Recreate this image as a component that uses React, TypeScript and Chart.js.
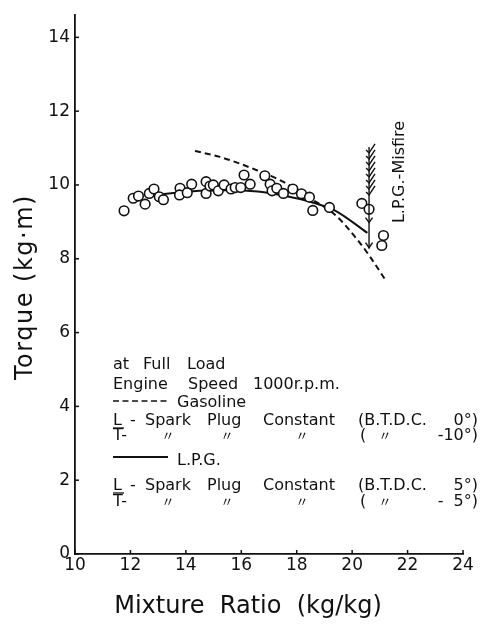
import React, { useEffect, useRef } from "react";
import { Chart, registerables } from "chart.js";

Chart.register(...registerables);

// Axis tick values
const xTicks = [10, 12, 14, 16, 18, 20, 22, 24];
const yTicks = [0, 2, 4, 6, 8, 10, 12, 14];

// L.P.G. test points: mixture ratio (kg/kg) against torque (kg·m)
const lpgRatio = [
  11.77, 12.1, 12.29, 12.53, 12.68, 12.85, 13.04, 13.19,
  13.79, 13.77, 14.05, 14.21, 14.73, 14.73, 14.87, 14.99,
  15.17, 15.38, 15.63, 15.78, 15.98, 16.1, 16.32, 16.85,
  17.04, 17.11, 17.28, 17.52, 17.86, 18.17, 18.46, 18.58,
  19.18, 20.35, 20.61, 21.13, 21.07,
];
const lpgTorque = [
  9.3, 9.64, 9.7, 9.48, 9.77, 9.89, 9.68, 9.6,
  9.91, 9.73, 9.79, 10.02, 10.09, 9.77, 9.97, 10.0,
  9.84, 10.0, 9.89, 9.93, 9.93, 10.27, 10.02, 10.25,
  10.02, 9.84, 9.91, 9.77, 9.89, 9.76, 9.67, 9.31,
  9.39, 9.5, 9.34, 8.63, 8.36,
];

// Gasoline curve (dashed)
const gasRatio = [14.33, 15.23, 16.56, 17.5, 18.48, 19.4, 20.29, 20.65, 21.19];
const gasTorque = [10.92, 10.76, 10.4, 10.09, 9.64, 9.18, 8.42, 8.05, 7.44];

// L.P.G. curve (solid)
const lpgCurveRatio = [12.6, 13.3, 14.5, 15.5, 16.6, 17.6, 18.6, 19.4, 20.55];
const lpgCurveTorque = [9.68, 9.76, 9.84, 9.86, 9.82, 9.7, 9.52, 9.3, 8.7];

// L.P.G. misfire limit
const misfireRatio = 20.61;
const misfireTop = 11.03;
const misfireHatchEnd = 9.6;
const misfireBottom = 8.28;
const misfireArrows = [8.98, 8.3];

const INK = "#111";
const FONT = "'DejaVu Sans', sans-serif";

const toPoints = (xs: number[], ys: number[]) => xs.map((x, i) => ({ x, y: ys[i] }));

const extrasPlugin = {
  id: "extras",
  afterDraw(chart: any) {
    const { ctx } = chart;
    const x = chart.scales.x;
    const y = chart.scales.y;
    ctx.save();
    ctx.strokeStyle = INK;
    ctx.fillStyle = INK;
    ctx.lineCap = "butt";

    // inward tick marks
    ctx.lineWidth = 1.5;
    xTicks.forEach((v) => {
      const px = x.getPixelForValue(v);
      ctx.beginPath();
      ctx.moveTo(px, y.bottom);
      ctx.lineTo(px, y.bottom - 4);
      ctx.stroke();
    });
    yTicks.forEach((v) => {
      const py = y.getPixelForValue(v);
      ctx.beginPath();
      ctx.moveTo(x.left, py);
      ctx.lineTo(x.left + 4, py);
      ctx.stroke();
    });

    // misfire limit: hatched line with arrows
    const mx = x.getPixelForValue(misfireRatio);
    const mTop = y.getPixelForValue(misfireTop);
    const mHatch = y.getPixelForValue(misfireHatchEnd);
    const mBot = y.getPixelForValue(misfireBottom);
    ctx.lineWidth = 1.4;
    ctx.beginPath();
    ctx.moveTo(mx, mTop);
    ctx.lineTo(mx, mBot);
    ctx.stroke();
    for (let py = mTop + 6; py <= mHatch; py += 6) {
      ctx.beginPath();
      ctx.moveTo(mx - 3, py - 3);
      ctx.lineTo(mx, py);
      ctx.lineTo(mx + 6, py - 9);
      ctx.stroke();
    }
    misfireArrows.forEach((v) => {
      const py = y.getPixelForValue(v);
      ctx.beginPath();
      ctx.moveTo(mx - 3.5, py - 5);
      ctx.lineTo(mx, py);
      ctx.lineTo(mx + 3.5, py - 5);
      ctx.stroke();
    });

    ctx.textBaseline = "alphabetic";

    // rotated misfire label
    ctx.save();
    ctx.font = `16px ${FONT}`;
    ctx.translate(404, 172);
    ctx.rotate(-Math.PI / 2);
    ctx.textAlign = "center";
    ctx.fillText("L.P.G.-Misfire", 0, 0);
    ctx.restore();

    // axis titles
    ctx.save();
    ctx.font = `24px ${FONT}`;
    ctx.textAlign = "center";
    (ctx as any).letterSpacing = "1.5px";
    ctx.translate(32, 287);
    ctx.rotate(-Math.PI / 2);
    ctx.fillText("Torque (kg·m)", 0, 0);
    ctx.restore();

    ctx.save();
    ctx.font = `24px ${FONT}`;
    ctx.textAlign = "center";
    ctx.fillText("Mixture  Ratio  (kg/kg)", 248, 613);
    ctx.restore();

    // test conditions block
    const put = (s: string, px: number, py: number, align: CanvasTextAlign = "left") => {
      ctx.textAlign = align;
      ctx.fillText(s, px, py);
    };
    const ditto = (px: number, py: number) => {
      ctx.save();
      ctx.font = `13px 'Noto Sans CJK JP', ${FONT}`;
      ctx.textAlign = "center";
      ctx.fillText("〃", px, py);
      ctx.restore();
    };
    const underlineL = (py: number) => {
      ctx.lineWidth = 1.3;
      ctx.beginPath();
      ctx.moveTo(113, py + 3);
      ctx.lineTo(124, py + 3);
      ctx.stroke();
    };

    ctx.font = `16px ${FONT}`;
    put("at", 113, 369);
    put("Full", 143, 369);
    put("Load", 187, 369);

    put("Engine", 113, 389);
    put("Speed", 188, 389);
    put("1000r.p.m.", 253, 389);

    ctx.lineWidth = 1.6;
    ctx.setLineDash([6, 3.5]);
    ctx.beginPath();
    ctx.moveTo(113, 401);
    ctx.lineTo(168, 401);
    ctx.stroke();
    ctx.setLineDash([]);
    put("Gasoline", 177, 407);

    const sparkRow = (py: number, deg: string) => {
      put("L", 113, py);
      underlineL(py);
      put("-", 130, py);
      put("Spark", 145, py);
      put("Plug", 207, py);
      put("Constant", 263, py);
      put("(B.T.D.C.", 358, py);
      put(deg, 478, py, "right");
    };
    const dittoRow = (py: number, deg: string) => {
      put("T-", 113, py);
      ditto(168, py);
      ditto(227, py);
      ditto(302, py);
      put("(", 360, py);
      ditto(385, py);
      put(deg, 478, py, "right");
    };

    sparkRow(425, "0°)");
    dittoRow(440, "-10°)");

    ctx.lineWidth = 2;
    ctx.beginPath();
    ctx.moveTo(113, 457);
    ctx.lineTo(168, 457);
    ctx.stroke();
    put("L.P.G.", 177, 465);

    sparkRow(490, "5°)");
    dittoRow(506, "-  5°)");

    ctx.restore();
  },
};

export default function App() {
  const canvasRef = useRef<HTMLCanvasElement | null>(null);

  useEffect(() => {
    const canvas = canvasRef.current;
    if (!canvas) return;
    const chart = new Chart(canvas, {
      type: "scatter",
      data: {
        datasets: [
          {
            label: "L.P.G. points",
            data: toPoints(lpgRatio, lpgTorque),
            pointStyle: "circle",
            pointRadius: 4.8,
            pointBorderWidth: 1.6,
            pointBackgroundColor: "#fff",
            pointBorderColor: INK,
            showLine: false,
            order: 0,
          },
          {
            label: "Gasoline",
            data: toPoints(gasRatio, gasTorque),
            showLine: true,
            borderColor: INK,
            borderWidth: 2,
            borderDash: [6, 4],
            pointRadius: 0,
            tension: 0.4,
            cubicInterpolationMode: "monotone",
            order: 1,
          },
          {
            label: "L.P.G.",
            data: toPoints(lpgCurveRatio, lpgCurveTorque),
            showLine: true,
            borderColor: INK,
            borderWidth: 2,
            pointRadius: 0,
            tension: 0.4,
            cubicInterpolationMode: "monotone",
            order: 1,
          },
        ],
      },
      options: {
        responsive: false,
        animation: false,
        devicePixelRatio: 1,
        layout: { padding: { top: 13, right: 24, bottom: 0, left: 0 } },
        plugins: {
          legend: { display: false },
          tooltip: { enabled: false },
        },
        scales: {
          x: {
            type: "linear",
            min: 10,
            max: 24,
            grid: { display: false, drawTicks: false },
            border: { color: INK, width: 1.8 },
            ticks: {
              color: INK,
              font: { family: FONT, size: 17 },
              padding: 1,
              maxRotation: 0,
            },
            afterBuildTicks: (scale: any) => {
              scale.ticks = xTicks.map((value) => ({ value }));
            },
            afterFit: (scale: any) => {
              scale.height = 70;
            },
          },
          y: {
            type: "linear",
            min: 0,
            max: 14.6,
            grid: { display: false, drawTicks: false },
            border: { color: INK, width: 1.8 },
            ticks: {
              color: INK,
              font: { family: FONT, size: 17 },
              padding: 5,
            },
            afterBuildTicks: (scale: any) => {
              scale.ticks = yTicks.map((value) => ({ value }));
            },
            afterFit: (scale: any) => {
              scale.width = 75;
            },
          },
        },
      },
      plugins: [extrasPlugin],
    });
    return () => chart.destroy();
  }, []);

  return (
    <div
      style={{
        position: "absolute",
        left: 0,
        top: 0,
        width: 487,
        height: 624,
        background: "#fff",
      }}
    >
      <canvas ref={canvasRef} width={487} height={624} style={{ display: "block" }} />
    </div>
  );
}
